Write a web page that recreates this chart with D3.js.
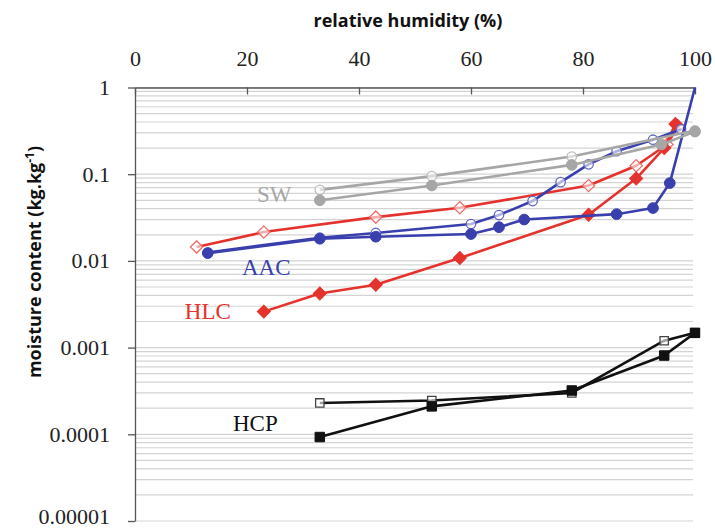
<!DOCTYPE html>
<html>
<head>
<meta charset="utf-8">
<script src="https://cdn.jsdelivr.net/npm/d3@7"></script>
<style>
  body { margin: 0; background: #fff; }
  svg { display: block; }
</style>
</head>
<body>
<script>
// relative humidity (%) / moisture content (kg/kg)
let swOpenRH = [33, 53, 78, 100];
let swOpenMC = [0.066, 0.095, 0.16, 0.32];
let swFillRH = [33, 53, 78, 94, 100];
let swFillMC = [0.050, 0.074, 0.128, 0.22, 0.31];

let aacOpenRH = [13, 33, 43, 60, 65, 71, 76, 81, 86, 92.5, 97.5];
let aacOpenMC = [0.0125, 0.0185, 0.021, 0.0266, 0.0338, 0.049, 0.081, 0.13, 0.184, 0.25, 0.33];
let aacFillRH = [13, 33, 43, 60, 65, 69.5, 86, 92.5, 95.5, 100];
let aacFillMC = [0.0123, 0.018, 0.019, 0.0204, 0.0245, 0.030, 0.0346, 0.0407, 0.079, 1.0];

let hlcOpenRH = [11, 23, 43, 58, 81, 89.5, 95, 97];
let hlcOpenMC = [0.0145, 0.0215, 0.032, 0.041, 0.074, 0.125, 0.22, 0.36];
let hlcFillRH = [23, 33, 43, 58, 81, 89.5, 94.5, 96.5];
let hlcFillMC = [0.0026, 0.0042, 0.0053, 0.0108, 0.034, 0.089, 0.20, 0.38];

let hcpOpenRH = [33, 53, 78, 94.5, 100];
let hcpOpenMC = [0.00023, 0.000245, 0.0003, 0.0012, 0.00148];
let hcpFillRH = [33, 53, 78, 94.5, 100];
let hcpFillMC = [0.000093, 0.00021, 0.00032, 0.00081, 0.00148];

let xTicks = [0, 20, 40, 60, 80, 100];
let yTicks = [1, 0.1, 0.01, 0.001, 0.0001, 0.00001];
let yTickLabels = ["1", "0.1", "0.01", "0.001", "0.0001", "0.00001"];

// series labels: name, rh, mc (text baseline start)
let labelNames = ["SW", "AAC", "HLC", "HCP"];
let labelRH = [21.8, 19.1, 8.9, 17.5];
let labelMC = [0.048, 0.0069, 0.00215, 0.000108];

let width = 715, height = 530;
let margin = { top: 87.5, right: 20, bottom: 9, left: 135 };

let svg = d3.select('body').append('svg')
    .attr('width', width)
    .attr('height', height);

let x = d3.scaleLinear()
    .domain([0, 100])
    .range([margin.left, width - margin.right]);

let y = d3.scaleLog()
    .domain([0.00001, 1])
    .range([height - margin.bottom, margin.top]);

// grid lines at 1..9 of every decade
svg.append('g')
    .selectAll('line')
    .data(y.ticks())
    .enter().append('line')
    .attr('x1', x(0))
    .attr('x2', x(100) - 2)
    .attr('y1', d => y(d))
    .attr('y2', d => y(d))
    .attr('stroke', '#d4d4d4')
    .attr('stroke-width', 1.2);

// top axis
let xAxis = svg.append('g')
    .attr('transform', 'translate(0,' + y(1) + ')')
    .call(d3.axisTop(x).tickValues(xTicks).tickSizeInner(-7).tickSizeOuter(0).tickPadding(22));
xAxis.select('.domain').attr('stroke', '#555').attr('stroke-width', 1.3);
xAxis.selectAll('.tick line').attr('stroke', '#555').attr('stroke-width', 1.3);
xAxis.selectAll('text')
    .attr('font-family', '"Liberation Serif", "Times New Roman", serif')
    .attr('font-size', 22)
    .attr('fill', '#222');

// left axis
let yAxis = svg.append('g')
    .attr('transform', 'translate(' + x(0) + ',0)')
    .call(d3.axisLeft(y).tickValues(yTicks).tickSizeInner(7).tickSizeOuter(0).tickPadding(18)
        .tickFormat((d, i) => yTickLabels[i]));
yAxis.select('.domain').attr('stroke', '#555').attr('stroke-width', 1.3);
yAxis.selectAll('.tick line').attr('stroke', '#555').attr('stroke-width', 1.3);
yAxis.selectAll('text')
    .attr('font-family', '"Liberation Serif", "Times New Roman", serif')
    .attr('font-size', 22)
    .attr('fill', '#222');
// bottom label sits on the edge, lift it a little so it isn't clipped
yAxis.selectAll('text').filter(d => d == 0.00001).attr('dy', '0.12em');

// axis titles
svg.append('text')
    .attr('x', 408)
    .attr('y', 27)
    .attr('text-anchor', 'middle')
    .attr('font-family', '"Open Sans", sans-serif')
    .attr('font-weight', 'bold')
    .attr('font-size', 18)
    .attr('fill', '#111')
    .text('relative humidity (%)');

let yTitle = svg.append('text')
    .attr('transform', 'translate(41,262) rotate(-90)')
    .attr('text-anchor', 'middle')
    .attr('font-family', '"Open Sans", sans-serif')
    .attr('font-weight', 'bold')
    .attr('font-size', 18)
    .attr('fill', '#111');
yTitle.append('tspan').text('moisture content (kg.kg');
yTitle.append('tspan').attr('dy', -7).attr('font-size', 12).text('-1');
yTitle.append('tspan').attr('dy', 7).text(')');

let line = d3.line()
    .x(d => x(d[0]))
    .y(d => y(d[1]));

function drawSeries(rh, mc, color, markerStroke, shape, open) {
    let pts = rh.map((r, i) => [r, mc[i]]);
    svg.append('path')
        .datum(pts)
        .attr('d', line)
        .attr('fill', 'none')
        .attr('stroke', color)
        .attr('stroke-width', 2.6)
        .attr('stroke-linejoin', 'round');

    let sym;
    if (shape == 'circle') sym = d3.symbol().type(d3.symbolCircle).size(open ? 70 : 90);
    else if (shape == 'diamond') sym = d3.symbol().type(d3.symbolSquare).size(open ? 75 : 85);
    else sym = d3.symbol().type(d3.symbolSquare).size(open ? 70 : 90);

    svg.append('g')
        .selectAll('path')
        .data(pts.filter(d => d[1] < 1))
        .enter().append('path')
        .attr('d', sym)
        .attr('transform', d => 'translate(' + x(d[0]) + ',' + y(d[1]) + ')' + (shape == 'diamond' ? ' rotate(45)' : ''))
        .attr('fill', open ? '#fff' : color)
        .attr('fill-opacity', open ? 0.6 : 1)
        .attr('stroke', open ? markerStroke : color)
        .attr('stroke-width', open ? 1.3 : 1);
}

let red = '#e5322d', blue = '#3a3fae', gray = '#a6a6a6', black = '#111';

drawSeries(hlcOpenRH, hlcOpenMC, red, '#ee6f6a', 'diamond', true);
drawSeries(hlcFillRH, hlcFillMC, red, red, 'diamond', false);
drawSeries(aacOpenRH, aacOpenMC, blue, '#6367c4', 'circle', true);
drawSeries(aacFillRH, aacFillMC, blue, blue, 'circle', false);
drawSeries(swOpenRH, swOpenMC, gray, '#bdbdbd', 'circle', true);
drawSeries(swFillRH, swFillMC, gray, gray, 'circle', false);
drawSeries(hcpOpenRH, hcpOpenMC, black, '#444', 'square', true);
drawSeries(hcpFillRH, hcpFillMC, black, black, 'square', false);

let labelColors = [gray, blue, red, black];
svg.append('g')
    .selectAll('text')
    .data(labelNames)
    .enter().append('text')
    .attr('x', (d, i) => x(labelRH[i]))
    .attr('y', (d, i) => y(labelMC[i]))
    .attr('font-family', '"Liberation Serif", "Times New Roman", serif')
    .attr('font-size', 23)
    .attr('fill', (d, i) => labelColors[i])
    .text(d => d);
</script>
</body>
</html>
